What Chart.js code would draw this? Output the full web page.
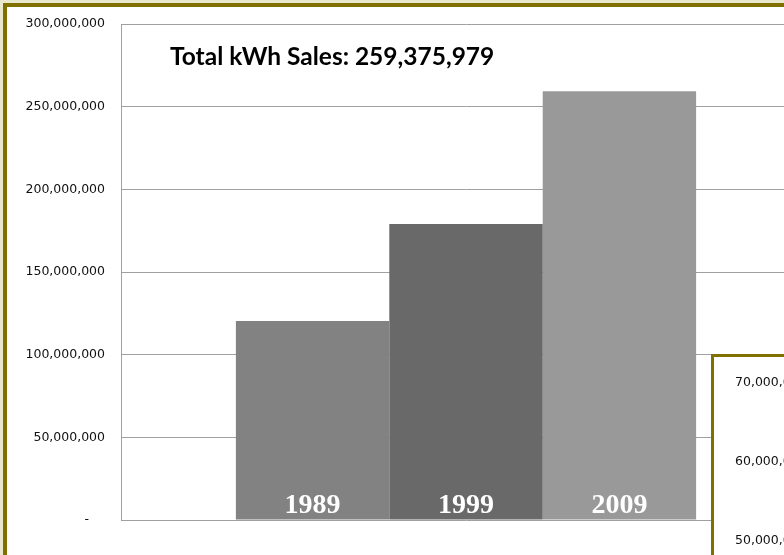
<!DOCTYPE html>
<html>
<head>
<meta charset="utf-8">
<script src="https://cdn.jsdelivr.net/npm/chart.js@4.4.1/dist/chart.umd.min.js"></script>
<style>
    html, body { margin: 0; padding: 0; }
    body { width: 784px; height: 555px; overflow: hidden; background: #e9e8cc; position: relative; }
    #frame { position: absolute; left: 3px; top: 3px; width: 900px; height: 700px; border: 4px solid #7f7000; background: #ffffff; }
    #mainWrap { position: absolute; left: 0; top: 0; width: 1000px; height: 600px; }
    #title { position: absolute; left: 170px; top: 41px; font: bold 24.5px Lato, "Liberation Sans", sans-serif; color: #000; white-space: nowrap; }
    #inset { position: absolute; left: 711px; top: 354px; width: 300px; height: 300px; border: 3px solid #7f7000; background: #ffffff; }
    #insetWrap { position: absolute; left: 0; top: 0; width: 300px; height: 300px; }
</style>
</head>
<body>
<div id="frame"></div>
<div id="mainWrap"><canvas id="salesChart"></canvas></div>
<div id="title">Total kWh Sales: 259,375,979</div>
<div id="inset"><div id="insetWrap"><canvas id="insetChart"></canvas></div></div>
<script>
// years shown as the three bars, and the kWh sold in each
const years = ["1989", "1999", "2009"];
const kwhSales = [120400000, 179000000, 259375979];
const barColors = ["#828282", "#696969", "#999999"];
// y axis of the main chart
const yTicksMin = 0;
const yTicksMax = 300000000;
const yTicksStep = 50000000;
// the small chart peeking in at the bottom right only shows its axis labels
const insetTicksMin = 40000000;
const insetTicksMax = 70000000;
const insetTicksStep = 10000000;

//excel style accounting numbers, zero shows as a dash
function formatKwh(value) {
    if (value === 0) {
        return "-    ";
    }
    return value.toLocaleString("en-US");
}

//writes the year at the bottom of every bar
const yearLabels = {
    id: "yearLabels",
    afterDatasetsDraw(chart) {
        const ctx = chart.ctx;
        ctx.save();
        ctx.fillStyle = "#ffffff";
        ctx.font = "bold 28px 'Liberation Serif', serif";
        ctx.textAlign = "center";
        ctx.textBaseline = "alphabetic";
        chart.data.datasets.forEach((ds, i) => {
            const bar = chart.getDatasetMeta(i).data[0];
            ctx.fillText(ds.label, bar.x, bar.base - 7);
        });
        ctx.restore();
    }
};

let datasets = [];
for (let i = 0; i < years.length; i++) {
    datasets.push({
        label: years[i],
        data: [kwhSales[i]],
        backgroundColor: barColors[i],
        borderWidth: 0,
        barPercentage: 1,
        categoryPercentage: 0.667
    });
}

const tickFont = { family: "'DejaVu Sans', sans-serif", size: 12.5 };

new Chart(document.getElementById("salesChart"), {
    type: "bar",
    data: { labels: [""], datasets: datasets },
    options: {
        responsive: true,
        maintainAspectRatio: false,
        animation: false,
        layout: { padding: { top: 24, bottom: 80, left: 0, right: 189 } },
        plugins: { legend: { display: false }, tooltip: { enabled: false } },
        scales: {
            x: { display: false },
            y: {
                min: yTicksMin,
                max: yTicksMax,
                afterFit(scale) { scale.width = 121; },
                border: { display: true, color: "#a0a0a0" },
                grid: { color: "#a0a0a0", drawTicks: false },
                ticks: {
                    stepSize: yTicksStep,
                    padding: 16,
                    color: "#111",
                    font: tickFont,
                    callback: (v) => formatKwh(v)
                }
            }
        }
    },
    plugins: [yearLabels]
});

//inset chart, only the top of its axis is visible in the picture
new Chart(document.getElementById("insetChart"), {
    type: "bar",
    data: { labels: [""], datasets: [] },
    options: {
        responsive: true,
        maintainAspectRatio: false,
        animation: false,
        layout: { padding: { top: 26, bottom: 37, left: 21, right: 0 } },
        plugins: { legend: { display: false }, tooltip: { enabled: false } },
        scales: {
            x: { display: false },
            y: {
                min: insetTicksMin,
                max: insetTicksMax,
                border: { display: false },
                grid: { display: false },
                ticks: {
                    stepSize: insetTicksStep,
                    crossAlign: "far",
                    color: "#111",
                    font: tickFont,
                    callback: (v) => formatKwh(v)
                }
            }
        }
    }
});
</script>
</body>
</html>
